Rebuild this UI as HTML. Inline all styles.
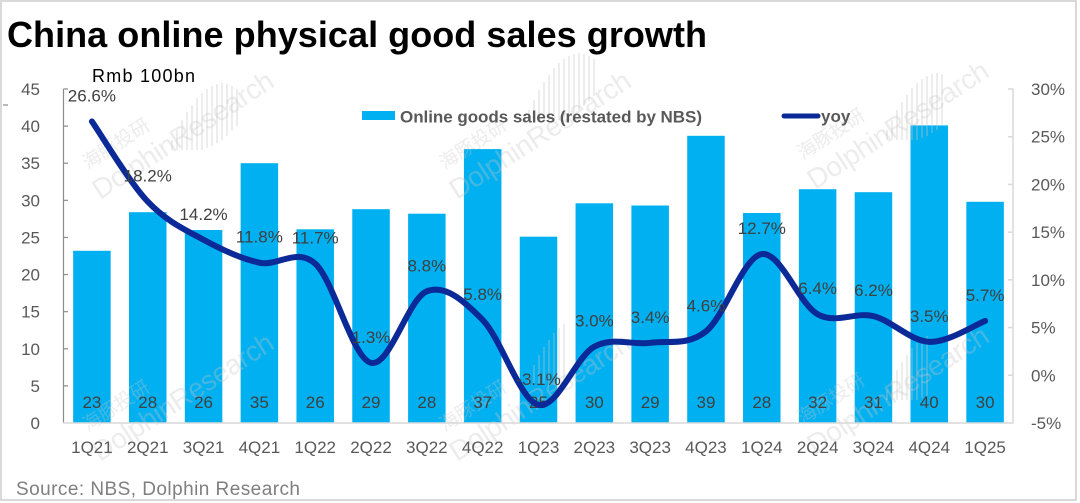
<!DOCTYPE html>
<html><head><meta charset="utf-8"><style>
html,body{margin:0;padding:0;background:#fff;}
svg{display:block;}
text{font-family:"Liberation Sans","Noto Sans CJK SC",sans-serif;}
</style></head><body>
<svg width="1080" height="503" viewBox="0 0 1080 503" xmlns="http://www.w3.org/2000/svg">
<rect x="0" y="0" width="1080" height="503" fill="#fff"/>
<rect x="1" y="1" width="1075" height="499" fill="none" stroke="#d9d9d9" stroke-width="2"/>

<!-- bars -->
<g fill="#00B0F0">
<rect x="73.16" y="250.8" width="37.5" height="172.2"/>
<rect x="128.99" y="212.2" width="37.5" height="210.8"/>
<rect x="184.81" y="230.0" width="37.5" height="193.0"/>
<rect x="240.63" y="163.2" width="37.5" height="259.8"/>
<rect x="296.46" y="229.3" width="37.5" height="193.7"/>
<rect x="352.28" y="209.2" width="37.5" height="213.8"/>
<rect x="408.10" y="213.7" width="37.5" height="209.3"/>
<rect x="463.93" y="149.1" width="37.5" height="273.9"/>
<rect x="519.75" y="236.7" width="37.5" height="186.3"/>
<rect x="575.57" y="203.3" width="37.5" height="219.7"/>
<rect x="631.40" y="205.5" width="37.5" height="217.5"/>
<rect x="687.22" y="135.8" width="37.5" height="287.2"/>
<rect x="743.04" y="213.0" width="37.5" height="210.0"/>
<rect x="798.87" y="189.2" width="37.5" height="233.8"/>
<rect x="854.69" y="192.2" width="37.5" height="230.8"/>
<rect x="910.51" y="125.4" width="37.5" height="297.6"/>
<rect x="966.34" y="201.8" width="37.5" height="221.2"/>
</g>

<!-- watermarks -->
<g fill="#c8c8c8" opacity="0.34">
<g transform="translate(100,200) rotate(-33)"><text x="6" y="-32" font-size="19" font-family="Noto Sans CJK SC, sans-serif">海豚投研</text><text x="0" y="0" font-size="28" textLength="210">DolphinResearch</text></g>
<g transform="translate(457,200) rotate(-33)"><text x="6" y="-32" font-size="19" font-family="Noto Sans CJK SC, sans-serif">海豚投研</text><text x="0" y="0" font-size="28" textLength="210">DolphinResearch</text></g>
<g transform="translate(815,190) rotate(-33)"><text x="6" y="-32" font-size="19" font-family="Noto Sans CJK SC, sans-serif">海豚投研</text><text x="0" y="0" font-size="28" textLength="210">DolphinResearch</text></g>
<g transform="translate(100,462) rotate(-33)"><text x="6" y="-32" font-size="19" font-family="Noto Sans CJK SC, sans-serif">海豚投研</text><text x="0" y="0" font-size="28" textLength="210">DolphinResearch</text></g>
<g transform="translate(457,462) rotate(-33)"><text x="6" y="-32" font-size="19" font-family="Noto Sans CJK SC, sans-serif">海豚投研</text><text x="0" y="0" font-size="28" textLength="210">DolphinResearch</text></g>
<g transform="translate(815,455) rotate(-33)"><text x="6" y="-32" font-size="19" font-family="Noto Sans CJK SC, sans-serif">海豚投研</text><text x="0" y="0" font-size="28" textLength="210">DolphinResearch</text></g>
</g>
<g stroke="#c8c8c8" opacity="0.32" stroke-width="2">
<path d="M172 150V140M177 150V130M182 150V120M187 150V112M192 150V105M197 150V98M202 150V93M207 148V89M212 146V86M217 143V84M222 140V83M227 136V84M232 131V86M237 126V89"/>
<path d="M529 120V110M534 120V100M539 120V90M544 120V82M549 120V75M554 120V68M559 120V63M564 118V59M569 116V56M574 113V54M579 110V53M584 106V54M589 101V56M594 96V59"/>
<path d="M887 140V130M892 140V120M897 140V110M902 140V102M907 140V95M912 140V88M917 140V83M922 138V79M927 136V76M932 133V74M937 130V73M942 126V74"/>
<path d="M887 400V390M892 400V380M897 400V370M902 400V362M907 400V355M912 400V348M917 400V343M922 398V339M927 396V336"/>
<path d="M529 385V375M534 385V365M539 385V355M544 385V347M549 385V340M554 385V333M559 385V328M564 383V324"/>
</g>

<!-- axes -->
<line x1="63.5" y1="89" x2="63.5" y2="423" stroke="#8c8c8c" stroke-width="1.2"/>
<g stroke="#8c8c8c" stroke-width="1.2">
<line x1="63.5" y1="89" x2="68" y2="89"/><line x1="63.5" y1="126.11" x2="68" y2="126.11"/>
<line x1="63.5" y1="163.22" x2="68" y2="163.22"/><line x1="63.5" y1="200.33" x2="68" y2="200.33"/>
<line x1="63.5" y1="237.44" x2="68" y2="237.44"/><line x1="63.5" y1="274.56" x2="68" y2="274.56"/>
<line x1="63.5" y1="311.67" x2="68" y2="311.67"/><line x1="63.5" y1="348.78" x2="68" y2="348.78"/>
<line x1="63.5" y1="385.89" x2="68" y2="385.89"/>
</g>
<line x1="63" y1="423" x2="1013.5" y2="423" stroke="#d9d9d9" stroke-width="1.5"/>
<line x1="1013" y1="89" x2="1013" y2="423" stroke="#d9d9d9" stroke-width="1.5"/>
<g stroke="#d9d9d9" stroke-width="1.5">
<line x1="1008" y1="89" x2="1013" y2="89"/><line x1="1008" y1="136.71" x2="1013" y2="136.71"/>
<line x1="1008" y1="184.43" x2="1013" y2="184.43"/><line x1="1008" y1="232.14" x2="1013" y2="232.14"/>
<line x1="1008" y1="279.86" x2="1013" y2="279.86"/><line x1="1008" y1="327.57" x2="1013" y2="327.57"/>
<line x1="1008" y1="375.29" x2="1013" y2="375.29"/>
</g>
<line x1="3" y1="105" x2="8" y2="105" stroke="#8c8c8c" stroke-width="1.2"/>

<!-- left tick labels -->
<g font-size="17" fill="#595959" text-anchor="end">
<text x="40" y="429">0</text><text x="40" y="391.9">5</text><text x="40" y="354.8">10</text>
<text x="40" y="317.7">15</text><text x="40" y="280.6">20</text><text x="40" y="243.4">25</text>
<text x="40" y="206.3">30</text><text x="40" y="169.2">35</text><text x="40" y="132.1">40</text>
<text x="40" y="95">45</text>
</g>
<!-- right tick labels -->
<g font-size="17" fill="#595959" text-anchor="start">
<text x="1031" y="429">-5%</text><text x="1031" y="381.3">0%</text><text x="1031" y="333.6">5%</text>
<text x="1031" y="285.9">10%</text><text x="1031" y="238.1">15%</text><text x="1031" y="190.4">20%</text>
<text x="1031" y="142.7">25%</text><text x="1031" y="95">30%</text>
</g>
<!-- x labels -->
<g font-size="17" fill="#595959" text-anchor="middle">
<text x="91.91" y="453">1Q21</text><text x="147.74" y="453">2Q21</text><text x="203.56" y="453">3Q21</text>
<text x="259.38" y="453">4Q21</text><text x="315.21" y="453">1Q22</text><text x="371.03" y="453">2Q22</text>
<text x="426.85" y="453">3Q22</text><text x="482.68" y="453">4Q22</text><text x="538.50" y="453">1Q23</text>
<text x="594.32" y="453">2Q23</text><text x="650.15" y="453">3Q23</text><text x="705.97" y="453">4Q23</text>
<text x="761.79" y="453">1Q24</text><text x="817.62" y="453">2Q24</text><text x="873.44" y="453">3Q24</text>
<text x="929.26" y="453">4Q24</text><text x="985.09" y="453">1Q25</text>
</g>
<!-- bar value labels -->
<g font-size="17" fill="#404040" text-anchor="middle">
<text x="91.91" y="408">23</text><text x="147.74" y="408">28</text><text x="203.56" y="408">26</text>
<text x="259.38" y="408">35</text><text x="315.21" y="408">26</text><text x="371.03" y="408">29</text>
<text x="426.85" y="408">28</text><text x="482.68" y="408">37</text><text x="538.50" y="408">25</text>
<text x="594.32" y="408">30</text><text x="650.15" y="408">29</text><text x="705.97" y="408">39</text>
<text x="761.79" y="408">28</text><text x="817.62" y="408">32</text><text x="873.44" y="408">31</text>
<text x="929.26" y="408">40</text><text x="985.09" y="408">30</text>
</g>

<!-- yoy line -->
<path fill="none" stroke="#0b2a97" stroke-width="6" stroke-linecap="round" stroke-linejoin="round" d="M91.91 121.45
C101.21 134.81 129.13 181.89 147.74 201.61
C166.35 221.33 184.95 229.60 203.56 239.78
C222.17 249.96 240.77 258.70 259.38 262.68
C277.99 266.66 296.60 246.94 315.21 263.64
C333.82 280.34 352.42 358.27 371.03 362.88
C389.64 367.49 408.24 298.47 426.85 291.31
C445.46 284.15 464.07 301.01 482.68 319.94
C501.29 338.87 519.89 400.42 538.50 404.87
C557.11 409.32 575.71 357.00 594.32 346.66
C612.93 336.32 631.54 345.39 650.15 342.84
C668.76 340.29 687.36 346.18 705.97 331.39
C724.58 316.60 743.18 256.95 761.79 254.09
C780.40 251.23 799.01 303.87 817.62 314.21
C836.23 324.55 854.83 311.51 873.44 316.12
C892.05 320.73 910.65 341.09 929.26 341.89
C947.87 342.69 975.79 324.39 985.09 320.89"/>

<!-- yoy labels -->
<g font-size="17" fill="#404040" text-anchor="middle">
<text x="91.91" y="101.5">26.6%</text>
<text x="147.74" y="181.6">18.2%</text>
<text x="203.56" y="219.8">14.2%</text>
<text x="259.38" y="242.7">11.8%</text>
<text x="315.21" y="243.6">11.7%</text>
<text x="371.03" y="342.9">1.3%</text>
<text x="426.85" y="271.3">8.8%</text>
<text x="482.68" y="299.9">5.8%</text>
<text x="538.50" y="384.9">-3.1%</text>
<text x="594.32" y="326.7">3.0%</text>
<text x="650.15" y="322.8">3.4%</text>
<text x="705.97" y="311.4">4.6%</text>
<text x="761.79" y="234.1">12.7%</text>
<text x="817.62" y="294.2">6.4%</text>
<text x="873.44" y="296.1">6.2%</text>
<text x="929.26" y="321.9">3.5%</text>
<text x="985.09" y="300.9">5.7%</text>
</g>

<!-- legend -->
<rect x="362" y="111" width="33" height="9" fill="#00B0F0"/>
<text x="400" y="122.5" font-size="17" font-weight="bold" fill="#595959" textLength="302">Online goods sales (restated by NBS)</text>
<line x1="784" y1="116" x2="818" y2="116" stroke="#0b2a97" stroke-width="5" stroke-linecap="round"/>
<text x="821" y="122" font-size="17" font-weight="bold" fill="#595959">yoy</text>

<!-- titles -->
<text x="7" y="47" font-size="36" font-weight="bold" fill="#000" textLength="700">China online physical good sales growth</text>
<text x="92" y="82" font-size="18" fill="#000" textLength="103">Rmb 100bn</text>
<text x="16" y="495" font-size="19" fill="#7f7f7f" textLength="284">Source: NBS, Dolphin Research</text>
</svg>
</body></html>
